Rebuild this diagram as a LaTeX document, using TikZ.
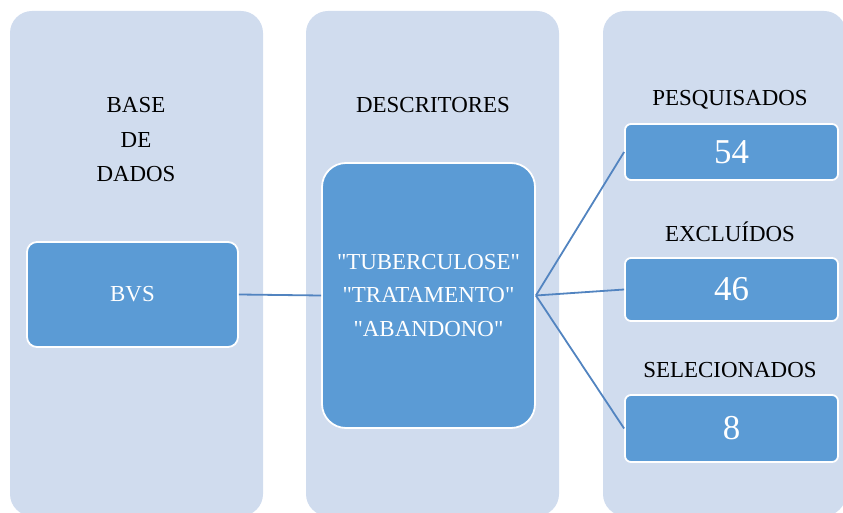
\documentclass[tikz,border=0pt]{standalone}
\usepackage{fontspec}
\setmainfont{Liberation Serif}[Ligatures=TeXOff]
\newcommand\sq{\symbol{34}}
\definecolor{colfill}{HTML}{D0DCEE}
\definecolor{boxfill}{HTML}{5B9BD5}
\definecolor{linecol}{HTML}{5284C0}
\begin{document}
\begin{tikzpicture}[x=1bp,y=-1bp,
  column/.style={fill=colfill,draw=none,rounded corners=22bp},
  bluebox/.style={fill=boxfill,draw=white,line width=1.8bp,text=white,align=center,inner sep=0pt},
  lbl/.style={font=\fontsize{23}{34.5}\selectfont,align=center,inner sep=0pt,anchor=base,text=black},
  txt/.style={font=\fontsize{23}{33.5}\selectfont},
  num/.style={font=\fontsize{35}{40}\selectfont},
  conn/.style={draw=linecol,line width=1.8bp}]
\useasboundingbox (0,0) rectangle (843,513);
% columns
\fill[column] (10,11) rectangle (263,516);
\fill[column] (306,11) rectangle (559,516);
\fill[column] (603,11) rectangle (846,516);
% column labels
\node[lbl] (base) at (136,113) {BASE};
\node[lbl] (de) at (136,147.5) {DE};
\node[lbl] (dados) at (136,182) {DADOS};
\node[lbl] (descl) at (433,113) {DESCRITORES};
\node[lbl] (pesq) at (730,106) {PESQUISADOS};
\node[lbl] (excl) at (730,242) {EXCLUÍDOS};
\node[lbl] (sel) at (730,377) {SELECIONADOS};
% boxes
\node[bluebox,txt,rounded corners=10bp,minimum width=211bp,minimum height=105bp] (bvs) at (132.5,294.5) {BVS};
\node[bluebox,txt,rounded corners=24bp,minimum width=213bp,minimum height=265bp] (desc) at (428.5,295.5) {\sq TUBERCULOSE\sq\\\sq TRATAMENTO\sq\\\sq ABANDONO\sq};
\node[bluebox,num,rounded corners=6bp,minimum width=213bp,minimum height=56bp] (n54) at (731.5,152) {54};
\node[bluebox,num,rounded corners=6bp,minimum width=213bp,minimum height=63bp] (n46) at (731.5,289.5) {46};
\node[bluebox,num,rounded corners=6bp,minimum width=213bp,minimum height=67bp] (n8) at (731.5,428.5) {8};
% connectors
\draw[conn] (bvs.east) -- (desc.west);
\draw[conn] (desc.east) -- (n54.west);
\draw[conn] (desc.east) -- (n46.west);
\draw[conn] (desc.east) -- (n8.west);
\end{tikzpicture}
\end{document}
